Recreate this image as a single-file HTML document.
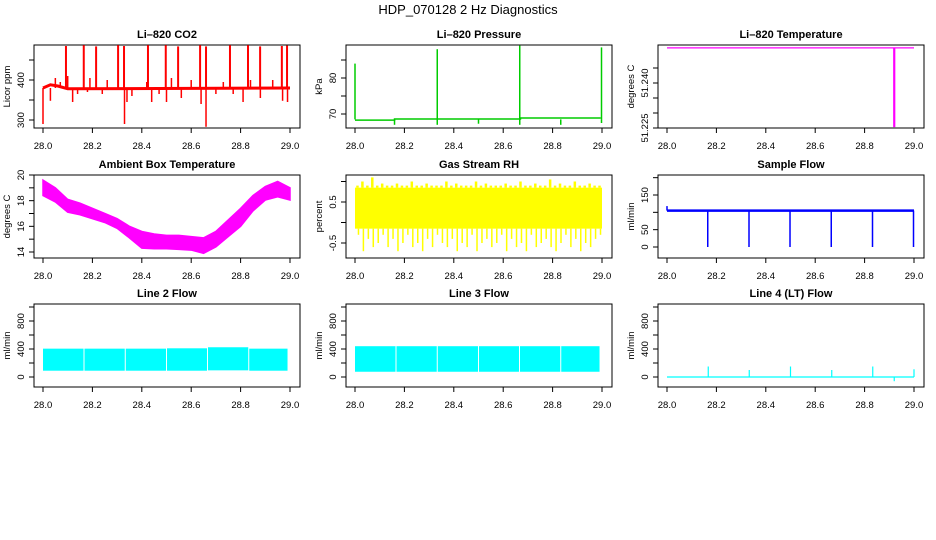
<!DOCTYPE html>
<html><head><meta charset="utf-8"><style>
html,body{margin:0;padding:0;background:#fff;}
svg{display:block;font-family:"Liberation Sans",Arial,sans-serif;}
.tk{font-size:9.5px;fill:#000;}
.tt{font-size:11px;font-weight:bold;fill:#000;}
.yl{font-size:9.5px;fill:#000;}
</style></head><body>
<svg id="chart" width="936" height="540" viewBox="0 0 936 540" xmlns="http://www.w3.org/2000/svg">
<rect width="936" height="540" fill="#fff"/>
<text x="468" y="14" text-anchor="middle" font-size="13">HDP_070128 2 Hz Diagnostics</text>
</svg>
<script>
// ---------- data ----------
const xTicks = [28.0, 28.2, 28.4, 28.6, 28.8, 29.0];
const xTickLabels = ["28.0","28.2","28.4","28.6","28.8","29.0"];
// CO2
const co2BaseX = [28.0, 28.03, 28.06, 28.1, 29.0];
const co2BaseV = [380, 388, 385, 378, 380];
const co2BigX = [28.093,28.165,28.215,28.304,28.328,28.425,28.497,28.547,28.636,28.660,28.757,28.830,28.879,28.967,28.988];
const co2BigV = [485,487,484,487,485,487,487,484,487,484,487,487,484,485,486];
const co2SmallX = [28.0,28.03,28.05,28.07,28.1,28.12,28.14,28.18,28.19,28.24,28.26,28.33,28.34,28.36,28.42,28.44,28.47,28.5,28.52,28.56,28.6,28.64,28.66,28.7,28.73,28.77,28.81,28.84,28.88,28.93,28.97,28.99];
const co2SmallV = [290,348,405,395,410,345,365,370,405,365,400,290,345,360,395,345,365,345,405,355,400,340,283,365,395,365,345,400,355,400,348,345];
// Pressure
const presBaseX = [28.0, 28.16, 28.16, 28.67, 28.67, 28.995];
const presBaseV = [68.3, 68.3, 68.6, 68.6, 68.9, 68.9];
const presSpikeX = [28.0, 28.333, 28.667, 28.998];
const presSpikeV = [84, 88, 89, 88.5];
const presDipX = [28.16, 28.333, 28.5, 28.667, 28.833, 28.998];
const presDipV = [67, 67, 67.3, 67, 67, 67.5];
// Li-820 temperature
const tempX = [28.0, 28.918, 28.918, 28.922, 28.922, 29.0];
const tempV = [51.2517, 51.2517, 51.2255, 51.2255, 51.2517, 51.2517];
// Ambient box temperature envelope
const ambX = [28.0,28.05,28.1,28.15,28.2,28.25,28.3,28.35,28.4,28.45,28.5,28.55,28.6,28.65,28.7,28.75,28.8,28.85,28.9,28.95,29.0];
const ambHi = [19.6,19.0,18.1,17.8,17.4,17.0,16.6,16.0,15.6,15.4,15.3,15.3,15.2,15.1,15.6,16.5,17.4,18.4,19.1,19.5,19.0];
const ambLo = [18.4,17.9,17.1,16.9,16.6,16.3,15.85,15.1,14.3,14.25,14.25,14.2,14.15,13.9,14.4,15.2,16.0,17.2,18.05,18.3,18.05];
// Gas stream RH
const rhCoreLo = -0.15, rhCoreHi = 0.85;
const rhHi = [0.9,1.0,0.9,1.1,0.9,0.95,0.9,0.9,0.95,0.9,0.9,1.0,0.9,0.9,0.95,0.9,0.9,0.9,1.0,0.9,0.95,0.9,0.9,0.9,1.0,0.9,0.95,0.9,0.9,0.9,0.95,0.9,0.9,1.0,0.9,0.9,0.95,0.9,0.9,1.05,0.9,0.95,0.9,0.9,1.0,0.9,0.9,0.95,0.9,0.9];
const rhLo = [-0.3,-0.7,-0.4,-0.6,-0.5,-0.3,-0.6,-0.4,-0.7,-0.5,-0.3,-0.6,-0.5,-0.7,-0.4,-0.6,-0.3,-0.5,-0.6,-0.4,-0.7,-0.5,-0.6,-0.3,-0.7,-0.5,-0.4,-0.6,-0.5,-0.3,-0.7,-0.4,-0.6,-0.5,-0.7,-0.3,-0.6,-0.5,-0.4,-0.6,-0.7,-0.5,-0.3,-0.6,-0.4,-0.7,-0.5,-0.6,-0.4,-0.3];
// Sample flow
const sfBase = 105;
const sfDipX = [28.165,28.332,28.498,28.665,28.832,28.998];
const sfDipV = [0,0,0,0,0,0];
// Line 2 / 3 flow segments
const lfStart = [28.0,28.168,28.335,28.502,28.668,28.835];
const lfEnd = [28.164,28.331,28.498,28.664,28.831,28.99];
const l2Lo = [90,90,90,90,95,90];
const l2Hi = [405,405,405,410,425,405];
const l3Lo = [75,75,75,75,75,75];
const l3Hi = [440,440,440,440,440,440];
// Line 4 flow
const l4SpikeX = [28.167,28.333,28.5,28.833,28.667,29.0,28.92];
const l4SpikeV = [150,100,150,150,100,110,-60];

// ---------- geometry ----------
const NS = "http://www.w3.org/2000/svg";
const svg = document.getElementById("chart");
const colX = [34, 346, 658], rowY = [45, 175, 304], PW = 266, PH = 83;
function mk(tag, attrs, parent){ const e=document.createElementNS(NS,tag); for(const k in attrs) e.setAttribute(k,attrs[k]); (parent||svg).appendChild(e); return e; }

function panel(name, r, c, title, ylab, ref, yT, yL, color){
  const x0=colX[c], y0=rowY[r];
  const g = mk("g",{});
  
  
  const X = v => x0+9+(v-28)*247;
  const Y = v => ref[1]+(v-ref[0])*(ref[3]-ref[1])/(ref[2]-ref[0]);
  const box = mk("rect",{x:x0,y:y0,width:PW,height:PH,fill:"none",stroke:"#000","stroke-width":1},g);
  
  
  const t = mk("text",{x:x0+PW/2,y:y0-7,"text-anchor":"middle",class:"tt"},g); t.textContent=title;
  
  
  xTicks.forEach((v,i)=>{
    const tk = mk("line",{x1:X(v),x2:X(v),y1:y0+PH,y2:y0+PH+5,stroke:"#000"},g);
    
    
    const tl = mk("text",{x:X(v),y:y0+PH+21,"text-anchor":"middle",class:"tk"},g); tl.textContent=xTickLabels[i];
    
    
  });
  yT.forEach(v=>{
    const tk = mk("line",{x1:x0-5,x2:x0,y1:Y(v),y2:Y(v),stroke:"#000"},g);
    
    
  });
  yL.forEach(l=>{
    const yy=Y(parseFloat(l));
    const tl = mk("text",{x:x0-10,y:yy,"text-anchor":"middle",class:"tk",transform:`rotate(-90 ${x0-10} ${yy})`},g); tl.textContent=l;
    
    
  });
  const yl = mk("text",{x:x0-24,y:y0+PH/2,"text-anchor":"middle",class:"yl",transform:`rotate(-90 ${x0-24} ${y0+PH/2})`},g); yl.textContent=ylab;
  
  
  const d = mk("g",{fill:color,stroke:color},g);
  
  
  return {X,Y,d};
}
function vline(p,x,v1,v2,w,nm){ const l=mk("line",{x1:p.X(x),x2:p.X(x),y1:p.Y(v1),y2:p.Y(v2),"stroke-width":w},p.d);
  
   return l; }
function poly(p,xs,vs,w,nm){ const l=mk("polyline",{points:xs.map((x,i)=>p.X(x)+","+p.Y(vs[i])).join(" "),fill:"none","stroke-width":w},p.d);
  
   return l; }

// Panel 1 CO2
let p = panel("co2",0,0,"Li\u2013820 CO2","Licor ppm",[300,120,400,80],[300,350,400,450],["300","400"],"#ff0000");
poly(p,co2BaseX,co2BaseV,3,"co2-baseline");
co2BigX.forEach((x,i)=>vline(p,x,380,co2BigV[i],2,"co2-spike"));
co2SmallX.forEach((x,i)=>vline(p,x,380,co2SmallV[i],1.5,"co2-small-spike"));

// Panel 2 pressure
p = panel("pressure",0,1,"Li\u2013820 Pressure","kPa",[70,114,80,78],[70,75,80,85],["70","80"],"#00cc00");
poly(p,presBaseX,presBaseV,1.5,"pressure-baseline");
presSpikeX.forEach((x,i)=>vline(p,x,68.5,presSpikeV[i],1.5,"pressure-spike"));
presDipX.forEach((x,i)=>vline(p,x,68.5,presDipV[i],1.5,"pressure-dip"));

// Panel 3 temperature
p = panel("li820-temperature",0,2,"Li\u2013820 Temperature","degrees C",[51.225,128,51.240,83],[51.225,51.230,51.235,51.240,51.245],["51.225","51.240"],"#ff00ff");
poly(p,tempX,tempV,1.2,"temperature-line");

// Panel 4 ambient
p = panel("ambient-temperature",1,0,"Ambient Box Temperature","degrees C",[20,175,14,252],[14,15,16,17,18,19,20],["14","16","18","20"],"#ff00ff");
{ const pts = ambX.map((x,i)=>p.X(x)+","+p.Y(ambHi[i])).concat(ambX.slice().reverse().map((x,i)=>p.X(x)+","+p.Y(ambLo[ambX.length-1-i])));
  const pg = mk("polygon",{points:pts.join(" "),"stroke-width":1.5},p.d);
  
   }

// Panel 5 RH
p = panel("gas-stream-rh",1,1,"Gas Stream RH","percent",[0.5,202,-0.5,243],[-0.5,0,0.5,1.0],["-0.5","0.5"],"#ffff00");
{ const r = mk("rect",{x:p.X(28.0),y:p.Y(rhCoreHi),width:p.X(29.0)-p.X(28.0),height:p.Y(rhCoreLo)-p.Y(rhCoreHi),stroke:"none"},p.d);
  
  
  const n=rhHi.length;
  rhHi.forEach((v,i)=>{ const x=28+(i+0.5)/n; vline(p,x,rhCoreHi,v,2.5,"rh-high-spike"); vline(p,x+0.004,rhCoreLo,rhLo[i],1.5,"rh-low-spike"); }); }

// Panel 6 sample flow
p = panel("sample-flow",1,2,"Sample Flow","ml/min",[0,247,150,195],[0,50,100,150,200],["0","50","150"],"#0000ff");
poly(p,[28.0,29.0],[sfBase,sfBase],2.5,"sample-flow-baseline");
vline(p,28.0,sfBase,118,1.5,"sample-flow-start");
sfDipX.forEach((x,i)=>vline(p,x,sfBase,sfDipV[i],1.5,"sample-flow-dip"));

// Panels 7-9
const fT=[0,200,400,600,800,1000], fL=["0","400","800"], fRef=[0,377,800,321];
p = panel("line-2-flow",2,0,"Line 2 Flow","ml/min",fRef,fT,fL,"#00ffff");
lfStart.forEach((s,i)=>{ const r=mk("rect",{x:p.X(s),y:p.Y(l2Hi[i]),width:p.X(lfEnd[i])-p.X(s),height:p.Y(l2Lo[i])-p.Y(l2Hi[i]),stroke:"none"},p.d);
  
   });
p = panel("line-3-flow",2,1,"Line 3 Flow","ml/min",fRef,fT,fL,"#00ffff");
lfStart.forEach((s,i)=>{ const r=mk("rect",{x:p.X(s),y:p.Y(l3Hi[i]),width:p.X(lfEnd[i])-p.X(s),height:p.Y(l3Lo[i])-p.Y(l3Hi[i]),stroke:"none"},p.d);
  
   });
p = panel("line-4-flow",2,2,"Line 4 (LT) Flow","ml/min",fRef,fT,fL,"#00ffff");
poly(p,[28.0,29.0],[0,0],1.2,"line-4-flow-baseline");
l4SpikeX.forEach((x,i)=>vline(p,x,0,l4SpikeV[i],1.2,"line-4-flow-spike"));
</script>
</body></html>
